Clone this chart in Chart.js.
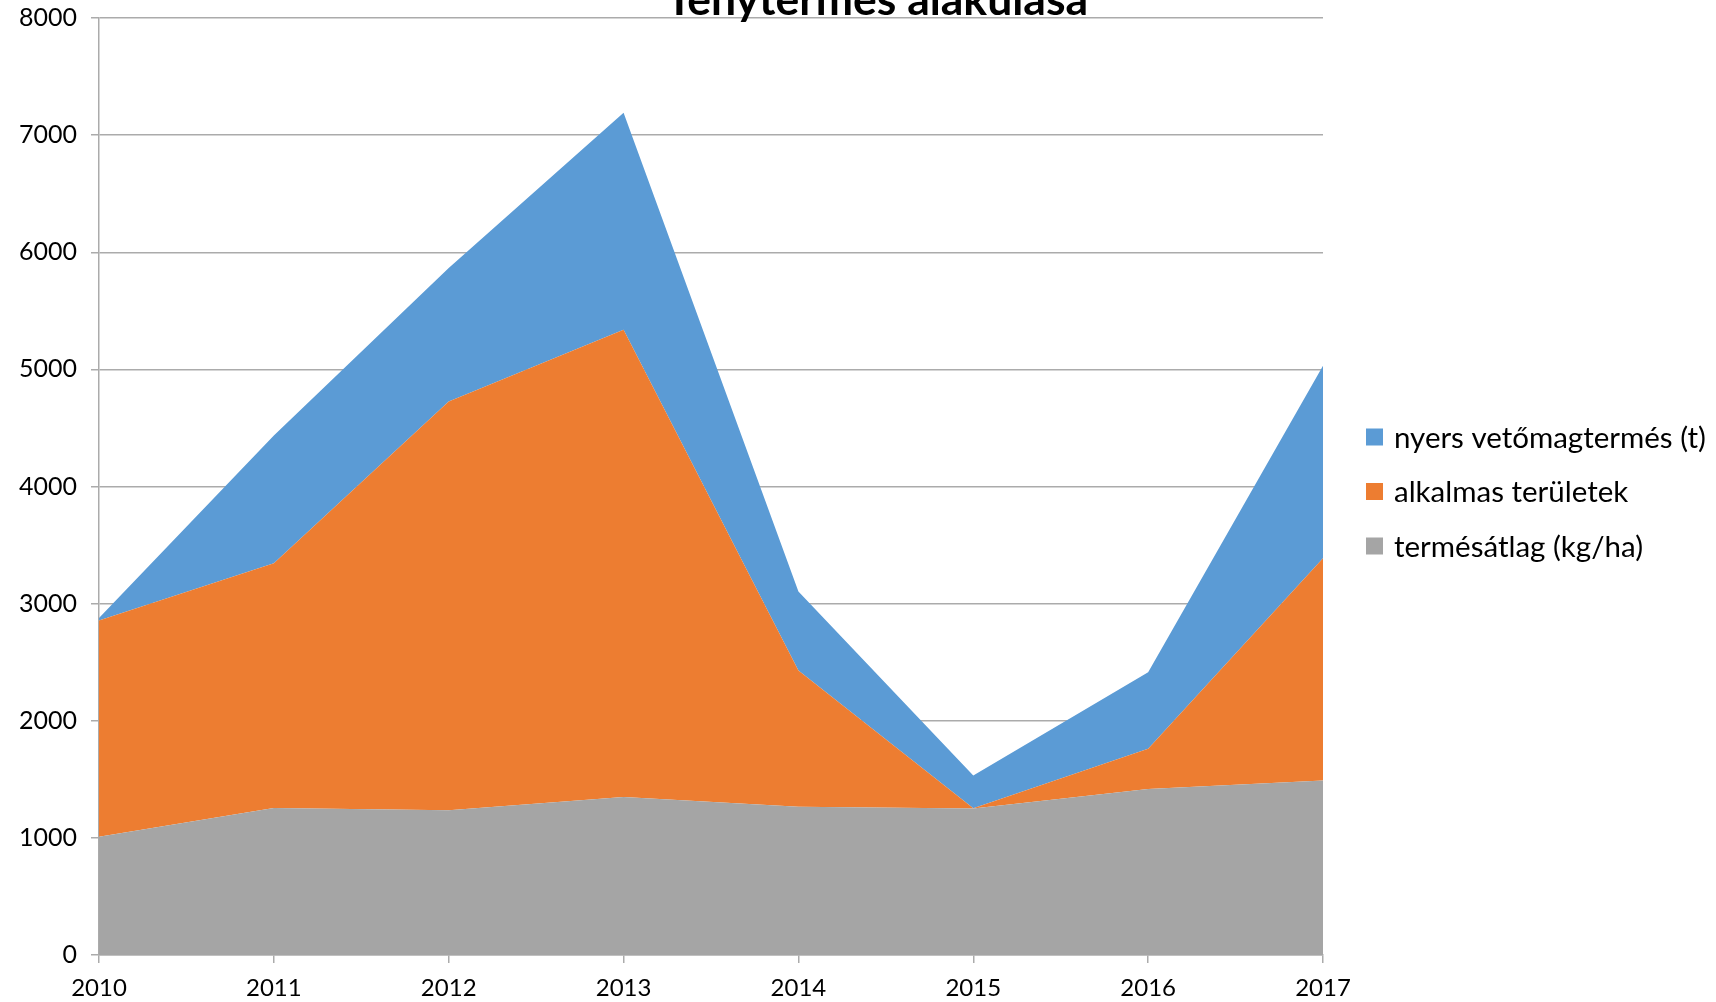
<!DOCTYPE html>
<html>
<head>
<meta charset="utf-8">
<title>Ténytermés alakulása</title>
<script src="https://cdn.jsdelivr.net/npm/chart.js@4/dist/chart.umd.min.js"></script>
<style>
    html, body { margin: 0; padding: 0; background: #fff; }
    #wrap { width: 1716px; height: 1002px; position: relative; }
</style>
</head>
<body>
<div id="wrap"><canvas id="chart"></canvas></div>
<script>
// --- Data (stacked area, gray at the bottom) ---
const years = ['2010', '2011', '2012', '2013', '2014', '2015', '2016', '2017'];
const termesatlag = [1010, 1255, 1235, 1350, 1265, 1250, 1417, 1490];   // kg/ha
const alkalmas = [1845, 2090, 3490, 3988, 1165, 2, 343, 1897];
const nyersVetomag = [23, 1091, 1140, 1853, 673, 281, 655, 1644];       // t

const chartTitle = 'Ténytermés alakulása';
const yMin = 0, yMax = 8000, yStep = 1000;

const BLUE = '#5B9BD5', ORANGE = '#ED7D31', GRAY = '#A5A5A5';
const GRID = '#ababab';

Chart.defaults.font.family = 'Lato, "Open Sans", sans-serif';
Chart.defaults.color = '#000';

// title sits half above the plot, like the original export
const titlePlugin = {
    id: 'cutTitle',
    afterDraw(chart) {
        const ctx = chart.ctx;
        ctx.save();
        ctx.font = 'bold 44.5px Lato, sans-serif';
        ctx.fillStyle = '#000';
        ctx.textAlign = 'center';
        ctx.textBaseline = 'alphabetic';
        ctx.fillText(chartTitle, 877, 15);
        ctx.restore();
    }
};

// legend on the right, top series first
const sideLegend = {
    id: 'sideLegend',
    afterDraw(chart) {
        const ctx = chart.ctx;
        const items = chart.data.datasets.slice().reverse();
        ctx.save();
        ctx.font = '29.5px Lato, sans-serif';
        ctx.textBaseline = 'middle';
        ctx.textAlign = 'left';
        items.forEach((ds, i) => {
            const cy = 437 + i * 54.5;
            ctx.fillStyle = ds.backgroundColor;
            ctx.fillRect(1366, cy - 8.5, 17, 17);
            ctx.fillStyle = '#000';
            ctx.fillText(ds.label, 1394, cy + 1);
        });
        ctx.restore();
    }
};

new Chart(document.getElementById('chart'), {
    type: 'line',
    data: {
        labels: years,
        datasets: [
            {
                label: 'termésátlag (kg/ha)',
                data: termesatlag,
                backgroundColor: GRAY,
                fill: 'origin'
            },
            {
                label: 'alkalmas területek',
                data: alkalmas,
                backgroundColor: ORANGE,
                fill: '-1'
            },
            {
                label: 'nyers vetőmagtermés (t)',
                data: nyersVetomag,
                backgroundColor: BLUE,
                fill: '-1'
            }
        ]
    },
    options: {
        responsive: true,
        maintainAspectRatio: false,
        animation: false,
        elements: {
            line: { borderWidth: 0, tension: 0 },
            point: { radius: 0, hoverRadius: 0 }
        },
        layout: { padding: { top: 0, right: 393, left: 0, bottom: 0 } },
        plugins: {
            legend: { display: false },
            title: { display: false },
            tooltip: { enabled: false }
        },
        scales: {
            x: {
                offset: false,
                grid: {
                    drawOnChartArea: false,
                    color: GRID,
                    lineWidth: 1.5,
                    tickLength: 8
                },
                border: { color: GRID, width: 1.5 },
                ticks: { font: { size: 24 }, padding: 11, maxRotation: 0 },
                afterFit(scale) { scale.height = 47; }
            },
            y: {
                stacked: true,
                min: yMin,
                max: yMax,
                grid: { color: GRID, lineWidth: 1.5, tickLength: 8 },
                border: { color: GRID, width: 1.5 },
                ticks: {
                    stepSize: yStep,
                    font: { size: 25 },
                    padding: 14,
                    callback: (v) => String(v)
                },
                afterFit(scale) {
                    scale.width = 99;
                    scale.paddingTop = 18;   // plot starts right under the cut title
                }
            }
        }
    },
    plugins: [titlePlugin, sideLegend]
});
</script>
</body>
</html>
